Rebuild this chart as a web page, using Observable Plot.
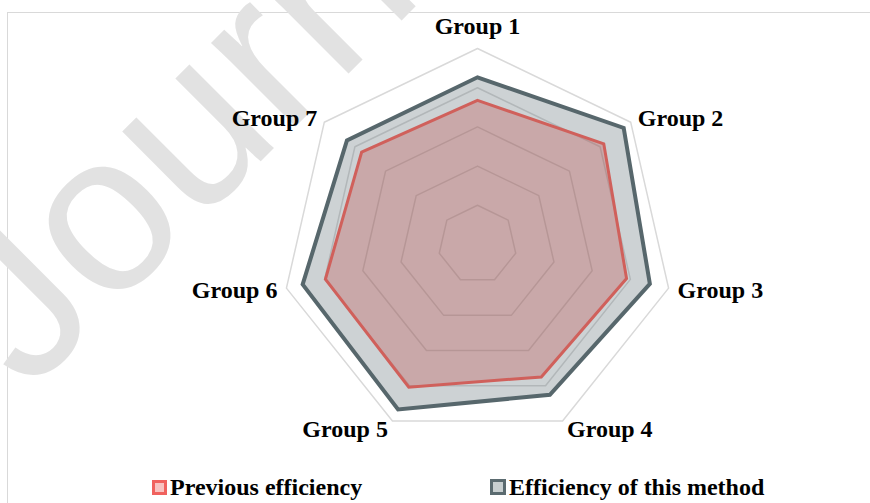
<!DOCTYPE html>
<html>
<head>
<meta charset="utf-8">
<script src="https://cdn.jsdelivr.net/npm/d3@7"></script>
<script src="https://cdn.jsdelivr.net/npm/@observablehq/plot@0.6"></script>
<style>
  html, body { margin: 0; padding: 0; background: #fff; }
  #wrap { position: relative; width: 870px; height: 503px; overflow: hidden; font-family: "Liberation Serif", "Times New Roman", serif; }
  #frame { position: absolute; left: 7px; top: 12px; width: 1000px; height: 1000px; border-left: 1.5px solid #d9d9d9; border-top: 1.5px solid #d9d9d9; }
  #wm { position: absolute; left: 0; top: 0; }
  #chart { position: absolute; left: 0; top: 0; }
  .leg { position: absolute; top: 471px; height: 32px; display: flex; align-items: center; font: bold 24px "Liberation Serif", "Times New Roman", serif; color: #000; white-space: nowrap; }
  .sw { display: inline-block; box-sizing: border-box; margin-right: 3px; }
</style>
</head>
<body>
<div id="wrap">
  <div id="frame"></div>
  <svg id="wm" width="870" height="503">
    <text x="28" y="394" transform="rotate(-45 28 394)" font-family="Liberation Sans, Arial, sans-serif" font-size="225" fill="#e2e2e2">Journal Pre-proof</text>
  </svg>
  <div id="chart"></div>
  <div id="legend"></div>
</div>
<script>
// ---- data ----
const groups = ["Group 1", "Group 2", "Group 3", "Group 4", "Group 5", "Group 6", "Group 7"];
const previousEfficiency = [73.5, 82.4, 78.0, 75.0, 80.8, 79.6, 75.6];
const thisMethodEfficiency = [85.3, 95.4, 90.2, 85.1, 93.4, 91.5, 85.2];
const gridLevels = [20, 40, 60, 80, 100];
const seriesNames = ["Previous efficiency", "Efficiency of this method"];

// ---- geometry ----
const W = 870, H = 470, cx = 477, cy = 244, pxPerUnit = 1.96;
const n = groups.length;
const ang = i => 2 * Math.PI * i / n;
const pt = (v, i) => ({x: v * Math.sin(ang(i)), y: v * Math.cos(ang(i))});

const grid = gridLevels.flatMap(l => groups.map((g, i) => ({level: l, ...pt(l, i)})));
const prevPts = previousEfficiency.map((v, i) => ({group: groups[i], ...pt(v, i)}));
const thisPts = thisMethodEfficiency.map((v, i) => ({group: groups[i], ...pt(v, i)}));

const maxLevel = d3.max(gridLevels);
const labels = groups.map((g, i) => {
  const s = Math.sin(ang(i)), c = Math.cos(ang(i));
  const p = pt(maxLevel, i);
  const anchor = s > 0.1 ? "start" : s < -0.1 ? "end" : "middle";
  // pixel offsets from the outer vertex
  let dxp, dyp;
  if (anchor === "middle") { dxp = 0; dyp = -22; }
  else if (c < -0.8) { dxp = 4.5 * Math.sign(s); dyp = 8; }
  else if (c > 0) { dxp = 7 * Math.sign(s); dyp = -4; }
  else { dxp = 9 * Math.sign(s); dyp = 2; }
  return {text: g, anchor, x: p.x + dxp / pxPerUnit, y: p.y - dyp / pxPerUnit};
});

const labelFont = {fontFamily: "Liberation Serif, Times New Roman, serif", fontSize: 24, fontWeight: "bold", fill: "#000", lineAnchor: "middle"};

const chart = Plot.plot({
  width: W,
  height: H,
  margin: 0,
  x: {domain: [-cx / pxPerUnit, (W - cx) / pxPerUnit], axis: null},
  y: {domain: [-(H - cy) / pxPerUnit, cy / pxPerUnit], axis: null},
  style: {background: "transparent", overflow: "visible"},
  marks: [
    Plot.line(grid, {x: "x", y: "y", z: "level", curve: "linear-closed", stroke: "#d9d9d9", strokeWidth: 1.5}),
    Plot.line(thisPts, {x: "x", y: "y", curve: "linear-closed", fill: "#5b6b70", fillOpacity: 0.3, stroke: "none"}),
    Plot.line(prevPts, {x: "x", y: "y", curve: "linear-closed", fill: "#c0504d", fillOpacity: 0.32, stroke: "none"}),
    Plot.line(prevPts, {x: "x", y: "y", curve: "linear-closed", stroke: "#d0605b", strokeWidth: 3, strokeLinejoin: "miter", strokeMiterlimit: 4}),
    Plot.line(thisPts, {x: "x", y: "y", curve: "linear-closed", stroke: "#57676c", strokeWidth: 4, strokeLinejoin: "miter", strokeMiterlimit: 4}),
    Plot.text(labels.filter(d => d.anchor === "middle"), {x: "x", y: "y", text: "text", textAnchor: "middle", ...labelFont}),
    Plot.text(labels.filter(d => d.anchor === "start"), {x: "x", y: "y", text: "text", textAnchor: "start", ...labelFont}),
    Plot.text(labels.filter(d => d.anchor === "end"), {x: "x", y: "y", text: "text", textAnchor: "end", ...labelFont})
  ]
});
document.getElementById("chart").appendChild(chart);

// ---- legend ----
const legendStyles = [
  {left: 152, size: 15, border: "#f0625e", bg: "#f8c3c1"},
  {left: 490, size: 16, border: "#5b6b70", bg: "#c8cfd0"}
];
const legend = document.getElementById("legend");
seriesNames.forEach((name, k) => {
  const st = legendStyles[k];
  const item = document.createElement("div");
  item.className = "leg";
  item.style.left = st.left + "px";
  const sw = document.createElement("span");
  sw.className = "sw";
  sw.style.width = st.size + "px";
  sw.style.height = st.size + "px";
  sw.style.border = "3px solid " + st.border;
  sw.style.background = st.bg;
  const tx = document.createElement("span");
  tx.textContent = name;
  item.appendChild(sw);
  item.appendChild(tx);
  legend.appendChild(item);
});
</script>
</body>
</html>
